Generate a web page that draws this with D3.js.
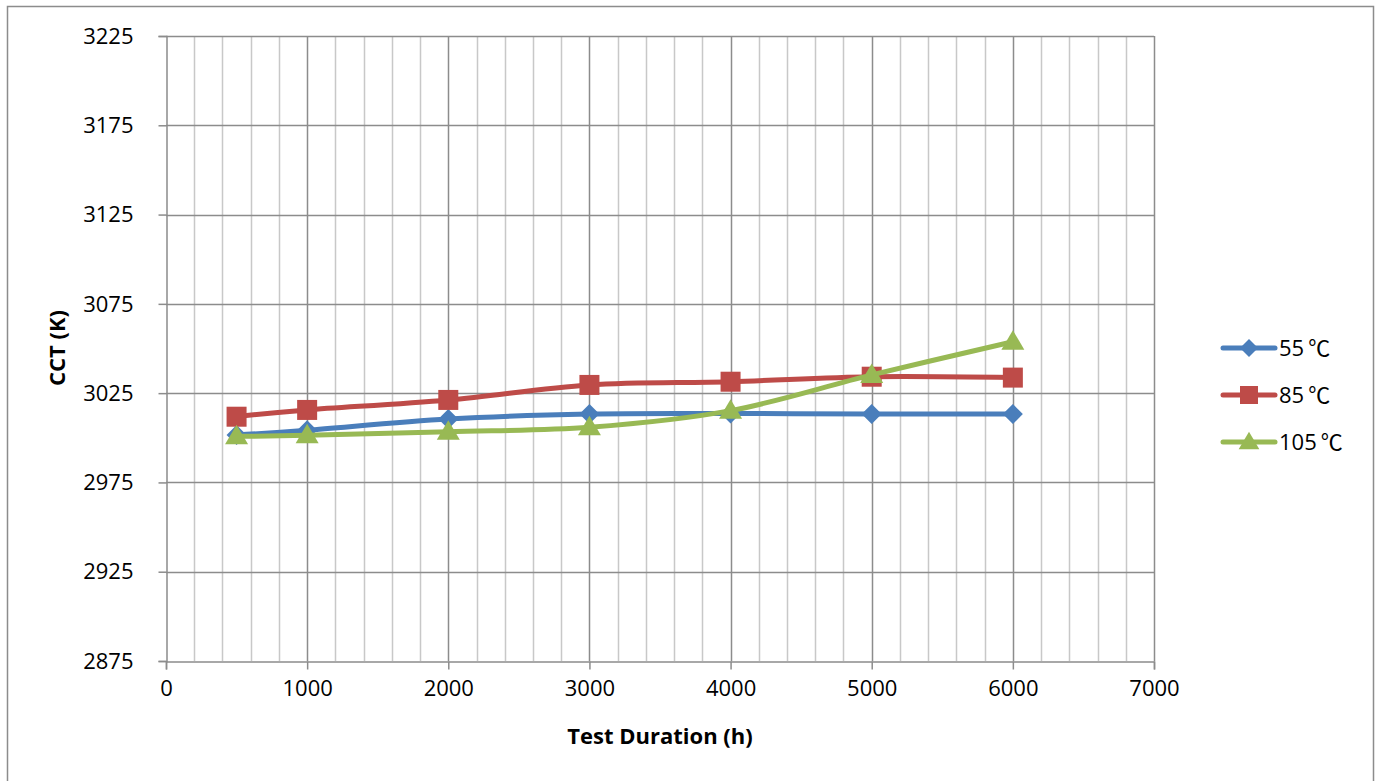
<!DOCTYPE html>
<html><head><meta charset="utf-8">
<script src="https://cdn.jsdelivr.net/npm/d3@7"></script>
<style>body{margin:0;background:#fff;}svg{display:block;font-family:"Open Sans","Noto Sans CJK SC",sans-serif;}</style>
</head><body><svg id="c" width="1377" height="781"></svg>
<script>
const hours = [500, 1000, 2000, 3000, 4000, 5000, 6000];
const s55 = [3001.6, 3004.2, 3010.5, 3013.3, 3013.6, 3013.3, 3013.3];
const s85 = [3011.8, 3015.6, 3021.2, 3029.6, 3031.4, 3034.2, 3033.7];
const s105 = [3000.8, 3001.4, 3003.4, 3005.9, 3015.2, 3035.2, 3053.8];
const seriesNames = ["55", "85", "105"];
const unit = "℃";
const seriesColors = ["#4A7EBB", "#BE4B48", "#98B954"];
const seriesShapes = ["diamond", "square", "triangle"];
const xTicks = [0, 1000, 2000, 3000, 4000, 5000, 6000, 7000];
const yTicks = [2875, 2925, 2975, 3025, 3075, 3125, 3175, 3225];

const svg = d3.select("#c");
const x = d3.scaleLinear().domain([0, 7000]).range([166, 1154]);
const y = d3.scaleLinear().domain([2875, 3225]).range([661, 36]);

svg.append("path").attr("d", "M7.5,790 V6.5 H1373.5 V790").attr("fill", "none").attr("stroke", "#8c8c8c").attr("stroke-width", 1.5);

const minor = d3.range(200, 7000, 200).filter(v => v % 1000 !== 0);
svg.append("g").selectAll("line").data(minor).join("line")
  .attr("x1", d => Math.round(x(d)) + 0.5).attr("x2", d => Math.round(x(d)) + 0.5)
  .attr("y1", y(3225)).attr("y2", y(2875)).attr("stroke", "#c8c8c8").attr("stroke-width", 1.5);
svg.append("g").selectAll("line").data(xTicks.slice(1)).join("line")
  .attr("x1", d => Math.round(x(d)) + 0.5).attr("x2", d => Math.round(x(d)) + 0.5)
  .attr("y1", y(3225)).attr("y2", y(2875)).attr("stroke", "#8c8c8c").attr("stroke-width", 1.5);
svg.append("g").selectAll("line").data(yTicks.slice(1)).join("line")
  .attr("x1", x(0)).attr("x2", x(7000))
  .attr("y1", d => Math.round(y(d)) + 0.5).attr("y2", d => Math.round(y(d)) + 0.5)
  .attr("stroke", "#8c8c8c").attr("stroke-width", 1.5);

const xAxis = svg.append("g").attr("transform", `translate(0,${Math.round(y(2875)) + 0.5})`)
  .call(d3.axisBottom(x).tickValues(xTicks).tickSize(8).tickPadding(7).tickFormat(d3.format("d")));
const yAxis = svg.append("g").attr("transform", `translate(${Math.round(x(0)) + 0.5},0)`)
  .call(d3.axisLeft(y).tickValues(yTicks).tickSize(8).tickPadding(25).tickFormat(d3.format("d")));
[xAxis, yAxis].forEach(a => {
  a.select(".domain").attr("stroke", "#8c8c8c").attr("stroke-width", 1.5);
  a.selectAll(".tick line").attr("stroke", "#8c8c8c").attr("stroke-width", 1.5);
  a.selectAll("text").attr("font-size", 22).attr("fill", "#000").attr("font-family", "'Open Sans',sans-serif");
});
xAxis.selectAll("text").attr("dy", "0.9em");
yAxis.selectAll("text").attr("dy", "0.33em");

svg.append("text").attr("x", 660).attr("y", 744).attr("text-anchor", "middle")
  .attr("font-size", 22).attr("font-weight", "bold").text("Test Duration (h)");
svg.append("text").attr("transform", "translate(65,348) rotate(-90)").attr("text-anchor", "middle")
  .attr("font-size", 22).attr("font-weight", "bold").text("CCT (K)");

const data = [s55, s85, s105];
const line = d3.line().x((d, i) => x(hours[i])).y(d => y(d)).curve(d3.curveCardinal.tension(0));

function marker(g, shape, cx, cy, color, r) {
  if (shape === "diamond") {
    g.append("path").attr("d", `M${cx},${cy - r}L${cx + r},${cy}L${cx},${cy + r}L${cx - r},${cy}Z`).attr("fill", color);
  } else if (shape === "square") {
    g.append("rect").attr("x", cx - r).attr("y", cy - r).attr("width", 2 * r).attr("height", 2 * r).attr("fill", color);
  } else {
    g.append("path").attr("d", `M${cx},${cy - r * 1.15}L${cx + r * 1.15},${cy + r * 0.8}L${cx - r * 1.15},${cy + r * 0.8}Z`).attr("fill", color);
  }
}

data.forEach((vals, k) => {
  const g = svg.append("g");
  g.append("path").datum(vals).attr("d", line).attr("fill", "none")
    .attr("stroke", seriesColors[k]).attr("stroke-width", 5).attr("stroke-linejoin", "round").attr("stroke-linecap", "round");
  vals.forEach((v, i) => marker(g, seriesShapes[k], x(hours[i]), y(v), seriesColors[k], 10));
});

const legY = [348, 395, 442];
seriesNames.forEach((n, k) => {
  const g = svg.append("g");
  g.append("line").attr("x1", 1223).attr("x2", 1275).attr("y1", legY[k]).attr("y2", legY[k])
    .attr("stroke", seriesColors[k]).attr("stroke-width", 5).attr("stroke-linecap", "round");
  marker(g, seriesShapes[k], 1249, legY[k], seriesColors[k], 9);
  const t = g.append("text").attr("x", 1279).attr("y", legY[k]).attr("dy", "0.36em").attr("font-size", 22);
  t.append("tspan").attr("font-family", "'Open Sans',sans-serif").text(n);
  t.append("tspan").attr("dx", 4).attr("font-family", "'Noto Sans CJK SC',sans-serif").text(unit);
});
</script></body></html>
